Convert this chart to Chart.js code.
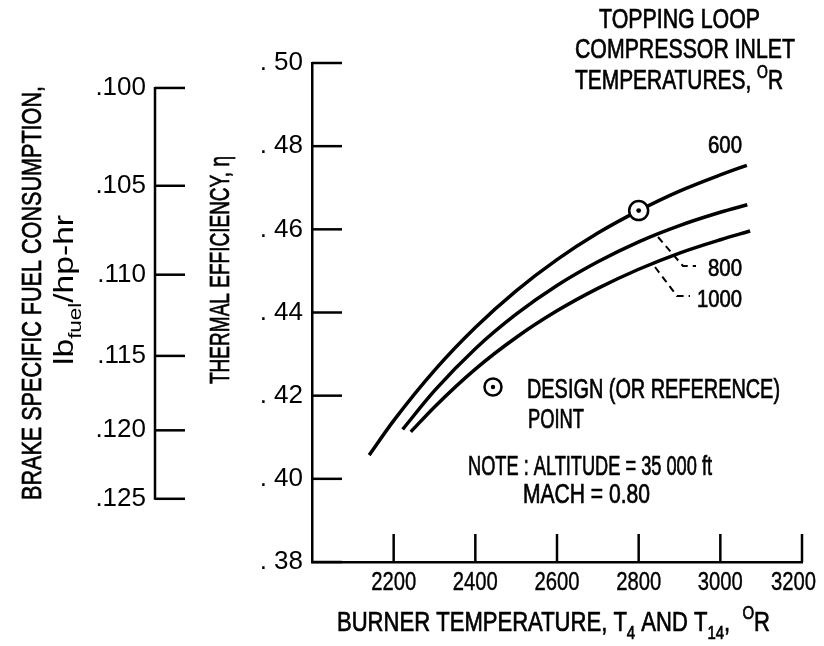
<!DOCTYPE html>
<html>
<head>
<meta charset="utf-8">
<title>Thermal efficiency vs burner temperature</title>
<script src="https://cdn.jsdelivr.net/npm/chart.js@4.4.1/dist/chart.umd.min.js"></script>
<style>
  html, body { margin: 0; padding: 0; background: #fff; }
  canvas { display: block; }
</style>
</head>
<body>
<canvas id="chart" width="824" height="646"></canvas>
<script>
const FONT = '"Liberation Sans Narrow", "Liberation Sans", Arial, sans-serif';

// Burner temperature (deg R) and thermal efficiency per compressor inlet temperature
const temps600 = [2140, 2200, 2300, 2400, 2500, 2600, 2700, 2800, 2900, 3000, 3065];
const eff600   = [0.4057, 0.4140, 0.4261, 0.4364, 0.4452, 0.4527, 0.4591, 0.4645, 0.4692, 0.4731, 0.4754];
const temps800 = [2222, 2300, 2400, 2500, 2600, 2700, 2800, 2900, 3000, 3066];
const eff800   = [0.4119, 0.4212, 0.4313, 0.4396, 0.4465, 0.4522, 0.4570, 0.4609, 0.4641, 0.4659];
const temps1000 = [2242, 2300, 2400, 2500, 2600, 2700, 2800, 2900, 3000, 3073];
const eff1000   = [0.4113, 0.4173, 0.4264, 0.4340, 0.4404, 0.4458, 0.4504, 0.4543, 0.4575, 0.4596];

// Design (reference) point
const designTemp = [2800];
const designEff = [0.4645];

// Axis ticks
const xTicks = [2200, 2400, 2600, 2800, 3000, 3200];
const effTicks = [0.38, 0.40, 0.42, 0.44, 0.46, 0.48, 0.50];
const bsfcTicks = [0.100, 0.105, 0.110, 0.115, 0.120, 0.125];
const BSFC_K = 0.0494; // bsfc * efficiency, lb/hp-hr

function toPoints(xs, ys) {
    return xs.map((x, i) => ({ x: x, y: ys[i] }));
}

// Draw text made of normal / sub / sup parts, squeezed to a width if given
function drawRich(ctx, parts, x, y, o) {
    const size = o.size;
    const fontFor = p => (p.sub || p.sup ? Math.round(size * 0.68) : size) + 'px ' + FONT;
    ctx.textAlign = 'left';
    ctx.textBaseline = 'alphabetic';
    let natural = 0;
    parts.forEach(p => { ctx.font = fontFor(p); natural += ctx.measureText(p.t).width; });
    const sx = o.width ? o.width / natural : 1;
    const start = o.align === 'center' ? x - natural * sx / 2 : x;
    const stroke = o.stroke === undefined ? 0.7 : o.stroke;
    ctx.save();
    ctx.translate(start, y);
    ctx.scale(sx, 1);
    ctx.lineWidth = stroke;
    let cx = 0;
    parts.forEach(p => {
        ctx.font = fontFor(p);
        const dy = p.sub ? size * 0.3 : (p.sup ? -size * 0.42 : 0);
        ctx.fillText(p.t, cx, dy);
        if (stroke > 0) ctx.strokeText(p.t, cx, dy);
        cx += ctx.measureText(p.t).width;
    });
    ctx.restore();
}

function drawRotated(ctx, parts, cx, cy, o) {
    ctx.save();
    ctx.translate(cx, cy);
    ctx.rotate(-Math.PI / 2);
    drawRich(ctx, parts, 0, o.size * 0.36, Object.assign({ align: 'center' }, o));
    ctx.restore();
}

const decorations = {
    id: 'decorations',
    afterDraw(chart) {
        const ctx = chart.ctx;
        const xs = chart.scales.x, ys = chart.scales.y, bs = chart.scales.bsfc;
        ctx.save();
        ctx.strokeStyle = '#000';
        ctx.fillStyle = '#000';
        ctx.lineWidth = 2.5;
        ctx.lineCap = 'butt';

        // inward tick marks on the efficiency axis
        effTicks.forEach(v => {
            const py = ys.getPixelForValue(v);
            ctx.beginPath(); ctx.moveTo(ys.right, py); ctx.lineTo(ys.right + 30, py); ctx.stroke();
        });
        // bsfc axis: spine between first and last tick, ticks to the right
        const bTop = bs.getPixelForValue(BSFC_K / bsfcTicks[0]);
        const bBot = bs.getPixelForValue(BSFC_K / bsfcTicks[bsfcTicks.length - 1]);
        ctx.beginPath(); ctx.moveTo(bs.right, bTop - 1); ctx.lineTo(bs.right, bBot + 1); ctx.stroke();
        bsfcTicks.forEach(b => {
            const py = bs.getPixelForValue(BSFC_K / b);
            ctx.beginPath(); ctx.moveTo(bs.right, py); ctx.lineTo(bs.right + 30, py); ctx.stroke();
        });
        // upward tick marks and narrow labels on the temperature axis
        xTicks.forEach(v => {
            const px = xs.getPixelForValue(v);
            ctx.lineWidth = 2.5;
            ctx.beginPath(); ctx.moveTo(px, xs.top); ctx.lineTo(px, xs.top - 28); ctx.stroke();
            const cx = Math.min(px, chart.width - 8 - 22.5);
            drawRich(ctx, [{ t: String(v) }], cx, xs.top + 28, { size: 25, width: 45, align: 'center', stroke: 0.4 });
        });

        // axis titles
        drawRotated(ctx, [{ t: 'BRAKE SPECIFIC FUEL CONSUMPTION,' }], 31, 293, { size: 27, width: 414 });
        drawRotated(ctx, [{ t: 'lb' }, { t: 'fuel', sub: true }, { t: '/hp-hr' }], 63, 290, { size: 27, width: 150, stroke: 0 });
        drawRotated(ctx, [{ t: 'THERMAL EFFICIENCY, η' }], 219, 270, { size: 27, width: 228 });
        drawRich(ctx, [{ t: 'BURNER TEMPERATURE, T' }, { t: '4', sub: true }, { t: ' AND T' }, { t: '14', sub: true },
                       { t: ',  ' }, { t: 'O', sup: true }, { t: 'R' }], 337, 631, { size: 28, width: 433 });

        // legend title
        drawRich(ctx, [{ t: 'TOPPING LOOP' }], 599, 28, { size: 27, width: 161 });
        drawRich(ctx, [{ t: 'COMPRESSOR INLET' }], 575, 58, { size: 27, width: 220 });
        drawRich(ctx, [{ t: 'TEMPERATURES, ' }, { t: 'O', sup: true }, { t: 'R' }], 575, 89, { size: 27, width: 208 });

        // curve labels
        drawRich(ctx, [{ t: '600' }], 708, 153, { size: 24, width: 34 });
        drawRich(ctx, [{ t: '800' }], 708, 276, { size: 24, width: 34 });
        drawRich(ctx, [{ t: '1000' }], 697, 307, { size: 24, width: 45 });

        // dashed leaders to 800 and 1000
        ctx.lineWidth = 2;
        ctx.setLineDash([7, 5]);
        ctx.beginPath(); ctx.moveTo(658, 237); ctx.lineTo(683, 266); ctx.lineTo(696, 266); ctx.stroke();
        ctx.beginPath(); ctx.moveTo(655, 267); ctx.lineTo(677, 296); ctx.lineTo(690, 296); ctx.stroke();
        ctx.setLineDash([]);

        // design point key
        ctx.lineWidth = 2.5;
        ctx.beginPath(); ctx.arc(493, 387, 8.5, 0, Math.PI * 2); ctx.stroke();
        ctx.beginPath(); ctx.arc(493, 387, 2.2, 0, Math.PI * 2); ctx.fill();
        drawRich(ctx, [{ t: 'DESIGN (OR REFERENCE)' }], 527, 398, { size: 27, width: 253 });
        drawRich(ctx, [{ t: 'POINT' }], 528, 428, { size: 27, width: 56 });

        // note
        drawRich(ctx, [{ t: 'NOTE : ALTITUDE = 35 000 ft' }], 468, 475, { size: 27, width: 244 });
        drawRich(ctx, [{ t: 'MACH = 0.80' }], 523, 503, { size: 27, width: 127 });
        ctx.restore();
    }
};

const curveStyle = {
    borderColor: '#000',
    borderWidth: 3.5,
    pointRadius: 0,
    fill: false,
    order: 2,
    cubicInterpolationMode: 'monotone'
};

// drop the label overflow padding so the plot box keeps its fixed place
function noPad(s) {
    s.paddingLeft = 0; s.paddingRight = 0; s.paddingTop = 0; s.paddingBottom = 0;
}

new Chart(document.getElementById('chart'), {
    type: 'line',
    data: {
        datasets: [
            Object.assign({ label: '600', data: toPoints(temps600, eff600) }, curveStyle),
            Object.assign({ label: '800', data: toPoints(temps800, eff800) }, curveStyle),
            Object.assign({ label: '1000', data: toPoints(temps1000, eff1000) }, curveStyle),
            {
                label: 'Design point',
                data: toPoints(designTemp, designEff),
                showLine: false,
                order: 1,
                pointRadius: 9.5,
                pointBackgroundColor: '#fff',
                pointBorderColor: '#000',
                pointBorderWidth: 2.5
            },
            {
                label: 'Design point centre',
                data: toPoints(designTemp, designEff),
                showLine: false,
                order: 0,
                pointRadius: 2.4,
                pointBackgroundColor: '#000',
                pointBorderColor: '#000',
                pointBorderWidth: 0
            }
        ]
    },
    options: {
        responsive: false,
        animation: false,
        layout: { autoPadding: false, padding: { top: 63, right: 22, bottom: 0, left: 0 } },
        plugins: { legend: { display: false }, tooltip: { enabled: false } },
        scales: {
            x: {
                type: 'linear',
                min: 2000,
                max: 3200,
                position: 'bottom',
                grid: { display: false, drawTicks: false },
                border: { color: '#000', width: 2.5 },
                afterBuildTicks: s => { s.ticks = xTicks.map(v => ({ value: v })); },
                afterFit: s => { s.height = 84; noPad(s); },
                ticks: { display: false }
            },
            y: {
                type: 'linear',
                min: 0.38,
                max: 0.50,
                position: 'left',
                weight: 0,
                grid: { display: false, drawTicks: false },
                border: { color: '#000', width: 2.5 },
                afterBuildTicks: s => { s.ticks = effTicks.map(v => ({ value: v })); },
                afterFit: s => { s.width = 157; noPad(s); },
                ticks: {
                    autoSkip: false,
                    padding: 9,
                    color: '#000',
                    font: { family: FONT, size: 26 },
                    callback: v => '. ' + Math.round(v * 100)
                }
            },
            bsfc: {
                type: 'linear',
                min: 0.38,
                max: 0.50,
                position: 'left',
                weight: 1,
                grid: { display: false, drawTicks: false },
                border: { display: false },
                afterBuildTicks: s => { s.ticks = bsfcTicks.map(b => ({ value: BSFC_K / b })); },
                afterFit: s => { s.width = 155; noPad(s); },
                ticks: {
                    autoSkip: false,
                    padding: 9,
                    color: '#000',
                    font: { family: FONT, size: 26 },
                    callback: (v, i) => '.' + Math.round(bsfcTicks[i] * 1000)
                }
            }
        }
    },
    plugins: [decorations]
});
</script>
</body>
</html>
